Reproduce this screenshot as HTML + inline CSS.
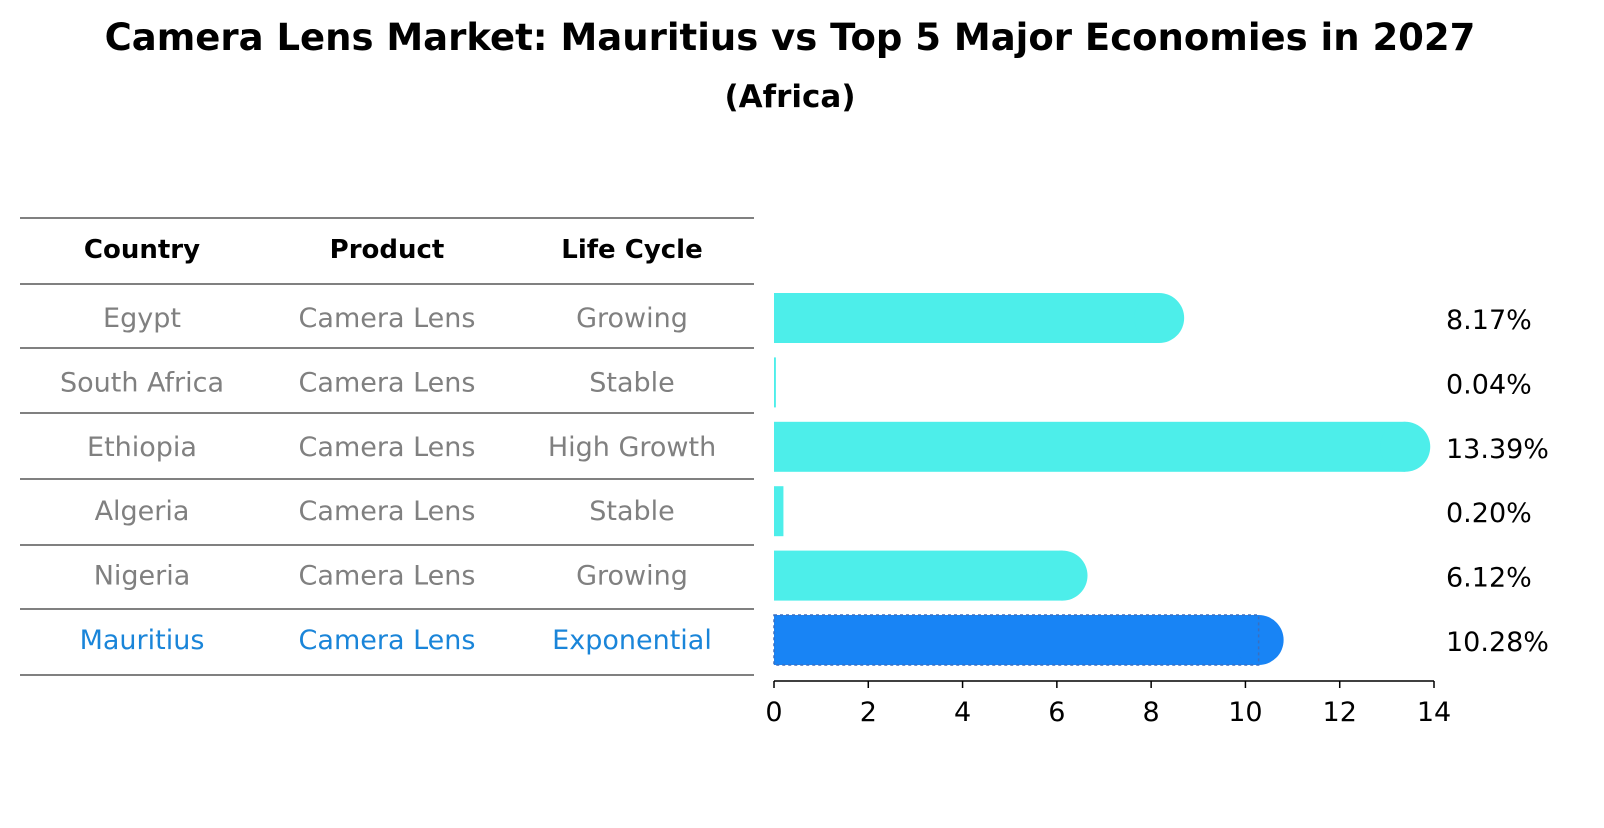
<!DOCTYPE html>
<html><head><meta charset="utf-8"><style>
body{margin:0;background:#fff;font-family:"Liberation Sans","DejaVu Sans",sans-serif;}
</style></head><body>
<svg width="1604" height="823" xmlns="http://www.w3.org/2000/svg" font-family="DejaVu Sans, Liberation Sans, sans-serif">
<text x="790" y="50" text-anchor="middle" font-size="37" font-weight="bold">Camera Lens Market: Mauritius vs Top 5 Major Economies in 2027</text>
<text x="790" y="107" text-anchor="middle" font-size="31" font-weight="bold">(Africa)</text>
<g id="table"></g>
<g id="bars"></g>
<g id="axis"></g>
</svg>
<script>
const countries=["Egypt","South Africa","Ethiopia","Algeria","Nigeria","Mauritius"];
const products=["Camera Lens","Camera Lens","Camera Lens","Camera Lens","Camera Lens","Camera Lens"];
const lifeCycles=["Growing","Stable","High Growth","Stable","Growing","Exponential"];
const values=[8.17,0.04,13.39,0.20,6.12,10.28];
const ticks=[0,2,4,6,8,10,12,14];
const NS="http://www.w3.org/2000/svg";
const x0=774,pxPer=(1434-774)/14;
const xs=v=>x0+v*pxPer;
const rowY=i=>318+i*64.4;
function mk(tag,attrs,parent){const e=document.createElementNS(NS,tag);for(const k in attrs)e.setAttribute(k,attrs[k]);parent.appendChild(e);return e;}
const tbl=document.getElementById('table');
const lines=[218,284,348,413,479,545,609,675];
lines.forEach(y=>{const l=mk('line',{x1:20,x2:754,y1:y,y2:y,stroke:'#000','stroke-width':1},tbl);

});
const colX=[142,387,632];
["Country","Product","Life Cycle"].forEach((h,j)=>{const t=mk('text',{x:colX[j],y:258,'text-anchor':'middle','font-size':26,'font-weight':'bold'},tbl);t.textContent=h;

});
countries.forEach((c,i)=>{const col=i===countries.length-1?'#1a85d9':'#808080';
[c,products[i],lifeCycles[i]].forEach((s,j)=>{const t=mk('text',{x:colX[j],y:rowY(i)+9,'text-anchor':'middle','font-size':27,fill:col},tbl);t.textContent=s;

});});
const bars=document.getElementById('bars');
const h=50,r=25;
values.forEach((v,i)=>{const last=i===values.length-1;const col=last?'#1884f5':'#4deeea';const y=rowY(i);
const g=mk('g',{},bars);


const w=Math.max(xs(v)-x0,1.5);
mk('rect',{x:x0,y:y-h/2,width:w,height:h,fill:col},g);
if(v>1)mk('circle',{cx:xs(v),cy:y,r:r,fill:col},g);
if(last)mk('rect',{x:x0,y:y-h/2,width:w,height:h,fill:'none',stroke:'#3a6fc0','stroke-width':1.5,'stroke-dasharray':'3 3'},g);
const t=mk('text',{x:1446,y:y+11,'font-size':27},bars);t.textContent=v.toFixed(2)+'%';

});
const ax=document.getElementById('axis');
mk('line',{x1:x0,x2:xs(14),y1:681,y2:681,stroke:'#000','stroke-width':1.5},ax);
ticks.forEach(t=>{mk('line',{x1:xs(t),x2:xs(t),y1:681,y2:688,stroke:'#000','stroke-width':1.5},ax);
const tx=mk('text',{x:xs(t),y:721,'text-anchor':'middle','font-size':27},ax);tx.textContent=t;

});
</script>
</body></html>
